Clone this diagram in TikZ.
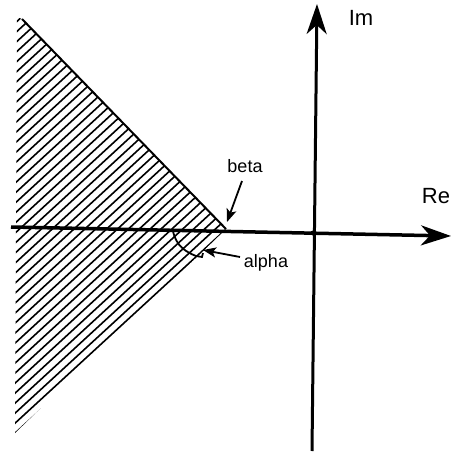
\documentclass[tikz,border=0pt]{standalone}
\usepackage{fontspec}
\setmainfont{Liberation Sans}
\usetikzlibrary{calc,arrows.meta}
\tikzstyle{axis} = [line width=3.5pt,-{Stealth[length=30pt,width=20pt,inset=9pt]}]
\tikzstyle{hatch} = [line width=1.6pt]
\tikzstyle{pointer} = [line width=1.8pt,-{Stealth[length=13pt,width=10pt,inset=3pt]}]
\tikzstyle{axlabel} = [font=\fontsize{22}{24}\selectfont, anchor=base, inner sep=0pt]
\tikzstyle{anglabel} = [font=\fontsize{18}{20}\selectfont, anchor=base, inner sep=0pt]

\begin{document}
\begin{tikzpicture}[x=1pt,y=-1pt]
    \useasboundingbox (0,0) rectangle (452,453);
    \coordinate (apex) at (226,229);
    \coordinate (top) at (22,19);
    \coordinate (low) at (15,433);
    \coordinate (origin) at (313,233);

    % hatched wedge
    \begin{scope}
      \clip (apex) -- (top) -- (17,17) -- (low) -- cycle;
      \foreach \k in {0,...,42}
        \draw[hatch] ($(0,447)+(0,-10*\k)$) -- ++(260,-239);
    \end{scope}
    \draw[line width=2pt] (top) -- (apex);

    % axes
    \draw[axis] (11,227) -- (451,236);
    \draw[axis, line width=3pt] (312,451) -- (317,4);
    \fill (origin) circle (2.5);
    \node (im)[axlabel] at (361,25) {Im};
    \node (re)[axlabel] at (436,203) {Re};

    % angles
    \draw[line width=1.8pt] (173,231) .. controls (176,246) and (186,252) .. (196,256) -- (202,257) -- (203,253);
    \node (beta)[anglabel] at (245,172) {beta};
    \node (alpha)[anglabel] at (266,267) {alpha};
    \draw[pointer] (242,181) -- (227,222);
    \draw[pointer] (240,257) -- (203,250);
\end{tikzpicture}
\end{document}
